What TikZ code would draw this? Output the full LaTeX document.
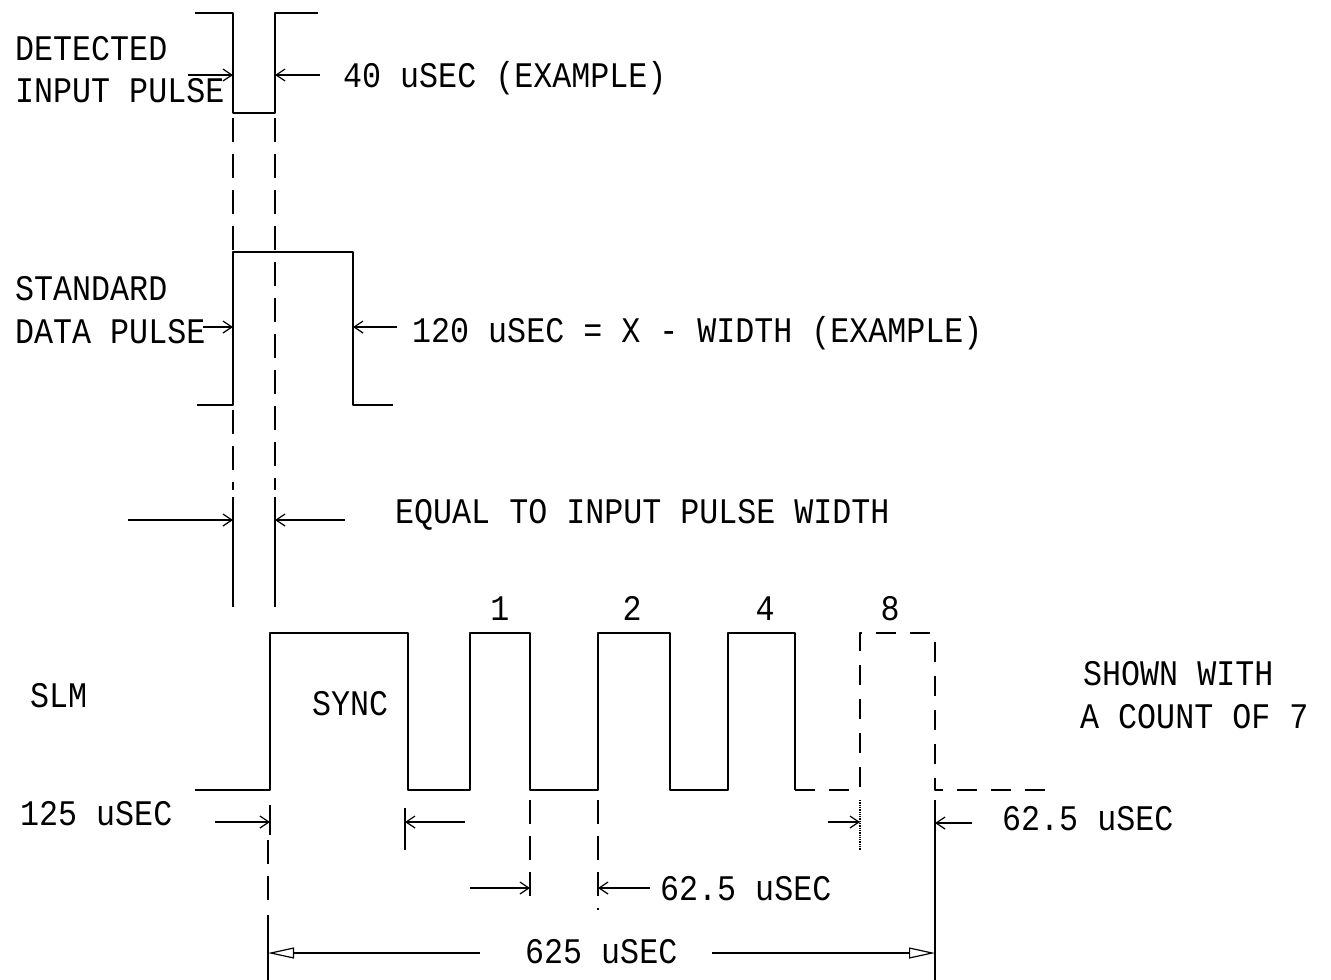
\documentclass[tikz,border=0pt]{standalone}
\usepackage{fontspec}
\setmonofont[FakeStretch=0.88]{Liberation Mono}
\usetikzlibrary{arrows.meta, positioning}

\tikzset{
  wave/.style={line width=1.9pt, line join=round},
  guide/.style={line width=1.5pt, dash pattern=on 24pt off 12pt},
  tick/.style={line width=1.3pt},
  dim/.style={line width=1.2pt, -{Straight Barb[length=9pt, width=12pt]}},
  span/.style={line width=1.2pt, -{Triangle[open, length=26pt, width=11pt]}},
  lbl/.style={font=\ttfamily\fontsize{36}{42}\selectfont, inner sep=0pt, anchor=base west},
  bitlbl/.style={font=\ttfamily\fontsize{36}{42}\selectfont, inner sep=0pt, anchor=base},
}

\begin{document}
\begin{tikzpicture}[x=1pt, y=-1pt]
\useasboundingbox (0,0) rectangle (1331,980);

    % --- Detected input pulse ---
    \draw[wave] (195,13) -- (233,13) -- (233,113) -- (275,113) -- (275,13) -- (318,13);
    \node[lbl] (det) at (15,60) {DETECTED};
    \node[lbl] (inp) at (15,102) {INPUT PULSE};
    \node[lbl] (w40) at (343,87) {40 uSEC (EXAMPLE)};
    \draw[dim] (188,75) -- (233,75);
    \draw[dim] (320,75) -- (275,75);

    % guides down from the input pulse
    \draw[guide] (233,118) -- (233,250);
    \draw[guide] (275,118) -- (275,490);
    \draw[guide] (233,410) -- (233,490);

    % --- Standard data pulse ---
    \draw[wave] (197,405) -- (233,405) -- (233,252) -- (353,252) -- (353,405) -- (393,405);
    \node[lbl] (std) at (15,300) {STANDARD};
    \node[lbl] (dat) at (15,343) {DATA PULSE};
    \node[lbl] (w120) at (412,342) {120 uSEC = X - WIDTH (EXAMPLE)};
    \draw[dim] (203,327) -- (233,327);
    \draw[dim] (397,327) -- (353,327);

    % --- Equal width marker ---
    \draw[tick] (233,497) -- (233,607);
    \draw[tick] (275,497) -- (275,607);
    \draw[dim] (128,520) -- (233,520);
    \draw[dim] (345,520) -- (275,520);
    \node[lbl] (eq) at (395,523) {EQUAL TO INPUT PULSE WIDTH};

    % --- SLM pulse train ---
    \draw[wave] (195,790) -- (270,790) -- (270,633) -- (408,633) -- (408,790)
      -- (470,790) -- (470,633) -- (530,633) -- (530,790)
      -- (598,790) -- (598,633) -- (670,633) -- (670,790)
      -- (728,790) -- (728,633) -- (795,633) -- (795,790);
    \draw[wave, dash pattern=on 20pt off 14pt] (795,790) -- (860,790) -- (860,633)
      -- (935,633) -- (935,790) -- (1048,790);
    \node[lbl] (slm) at (30,707) {SLM};
    \node[lbl] (sync) at (312,715) {SYNC};
    \node[bitlbl] (b1) at (500,620) {1};
    \node[bitlbl] (b2) at (632,620) {2};
    \node[bitlbl] (b4) at (765,620) {4};
    \node[bitlbl] (b8) at (890,620) {8};
    \node[lbl] (cnt1) at (1083,685) {SHOWN WITH};
    \node[lbl] (cnt2) at (1080,728) {A COUNT OF 7};

    % --- Timing marks under the train ---
    \node[lbl] (t125) at (20,825) {125 uSEC};
    \draw[tick] (270,805) -- (270,835);
    \draw[dim] (215,822) -- (270,822);
    \draw[tick] (405,808) -- (405,850);
    \draw[dim] (465,822) -- (405,822);

    \draw[guide] (530,800) -- (530,905);
    \draw[guide] (598,800) -- (598,910);
    \draw[dim] (470,888) -- (530,888);
    \draw[dim] (650,888) -- (598,888);
    \node[lbl] (t62a) at (660,900) {62.5 uSEC};

    \draw[tick, densely dotted] (860,800) -- (860,850);
    \draw[tick] (935,800) -- (935,980);
    \draw[dim] (828,822) -- (860,822);
    \draw[dim] (972,823) -- (935,823);
    \node[lbl] (t62b) at (1002,830) {62.5 uSEC};

    % --- Frame length ---
    \draw[guide] (268,840) -- (268,905);
    \draw[tick] (268,915) -- (268,980);
    \draw[span] (480,953) -- (268,953);
    \draw[span] (712,953) -- (935,953);
    \node[lbl] (t625) at (525,963) {625 uSEC};

\end{tikzpicture}
\end{document}
